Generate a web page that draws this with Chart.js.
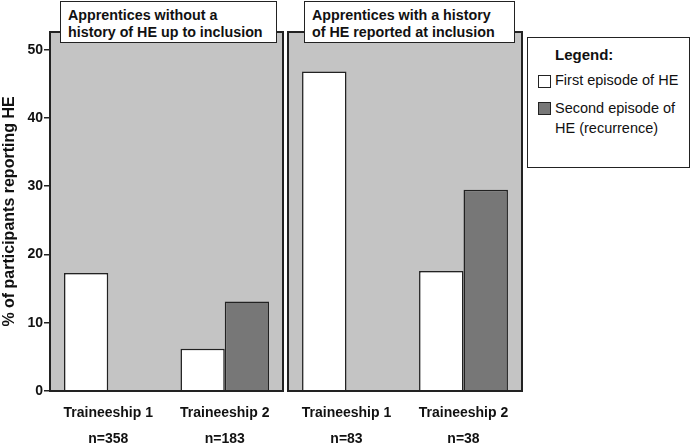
<!DOCTYPE html>
<html>
<head>
<meta charset="utf-8">
<script src="https://cdn.jsdelivr.net/npm/chart.js@4"></script>
<style>
  body { margin: 0; background: #fff; font-family: "Liberation Sans", Arial, sans-serif; }
  #wrap { position: relative; width: 692px; height: 444px; }
  canvas { position: absolute; top: 0; }
  #leftCanvas { left: 0; }
  #rightCanvas { left: 285px; }
  .title-box {
    position: absolute; top: 1px; height: 42px; background: #fff;
    border: 1.5px solid #222; font-weight: bold; font-size: 14.3px;
    line-height: 17px; padding: 5px 0 0 7px; box-sizing: border-box; color: #111;
  }
  #legendBox {
    position: absolute; left: 527px; top: 37px; width: 163px; height: 131px;
    border: 1.5px solid #222; box-sizing: border-box; color: #111; font-size: 14.5px;
  }
  #legendBox .head { position: absolute; left: 27px; top: 8px; font-weight: bold; font-size: 15px; }
  #legendBox .sw { position: absolute; left: 10px; width: 11px; height: 11px; border: 1px solid #222; }
  #legendBox .txt { position: absolute; left: 27px; line-height: 20px; }
</style>
</head>
<body>
<div id="wrap">
  <canvas id="leftCanvas" width="285" height="444"></canvas>
  <canvas id="rightCanvas" width="240" height="444"></canvas>
  <div class="title-box" style="left:60px; width:217px;">Apprentices without a<br>history of HE up to inclusion</div>
  <div class="title-box" style="left:304px; width:211px;">Apprentices with a history<br>of HE reported at inclusion</div>
  <div id="legendBox">
    <div class="head">Legend:</div>
    <div class="sw" style="top:37px; background:#fff;"></div>
    <div class="txt" style="top:32px;">First episode of HE</div>
    <div class="sw" style="top:64px; background:#777;"></div>
    <div class="txt" style="top:60px;">Second episode of<br>HE (recurrence)</div>
  </div>
</div>
<script>
const categoriesLeft = [["Traineeship 1", "n=358"], ["Traineeship 2", "n=183"]];
const categoriesRight = [["Traineeship 1", "n=83"], ["Traineeship 2", "n=38"]];
const firstEpisodeLeft = [17.3, 6.2];
const secondEpisodeLeft = [null, 13.1];
const firstEpisodeRight = [46.8, 17.6];
const secondEpisodeRight = [null, 29.5];
const yTicks = [0, 10, 20, 30, 40, 50];
const yMax = 52.6;

const panelBg = {
    id: "panelBg",
    beforeDatasetsDraw(chart) {
        const a = chart.chartArea;
        const c = chart.ctx;
        c.save();
        c.fillStyle = "#c4c4c4";
        c.fillRect(a.left, a.top, a.right - a.left, a.bottom - a.top);
        c.restore();
    },
    afterDatasetsDraw(chart) {
        const a = chart.chartArea;
        const c = chart.ctx;
        c.save();
        c.strokeStyle = "#222";
        c.lineWidth = 2;
        c.strokeRect(a.left, a.top, a.right - a.left, a.bottom - a.top);
        c.restore();
    }
};

function makeChart(id, labels, first, second, showY) {
    return new Chart(document.getElementById(id), {
        type: "bar",
        data: {
            labels: labels,
            datasets: [
                { label: "First episode of HE", data: first, backgroundColor: "#ffffff",
                  borderColor: "#222", borderWidth: 1.5 },
                { label: "Second episode of HE (recurrence)", data: second, backgroundColor: "#777777",
                  borderColor: "#222", borderWidth: 1.5 }
            ]
        },
        options: {
            responsive: false,
            animation: false,
            layout: { padding: { top: 32, left: showY ? 0 : 3, right: showY ? 2 : 3, bottom: 0 } },
            plugins: { legend: { display: false }, tooltip: { enabled: false } },
            datasets: { bar: { categoryPercentage: 0.76, barPercentage: 1 } },
            scales: {
                x: {
                    grid: { display: false },
                    border: { display: false },
                    ticks: {
                        color: "#111", padding: 2, maxRotation: 0, autoSkip: false,
                        font: { family: "Liberation Sans", size: 14, weight: "bold", lineHeight: 1.8 }
                    },
                    afterFit: (s) => { s.height = 53; }
                },
                y: {
                    display: showY,
                    min: 0,
                    max: yMax,
                    afterBuildTicks: (s) => { s.ticks = yTicks.map(v => ({ value: v })); },
                    grid: { drawOnChartArea: false, drawTicks: true, tickLength: 6, color: "#222", lineWidth: 1.5 },
                    border: { display: false },
                    ticks: {
                        color: "#111", padding: 1,
                        font: { family: "Liberation Sans", size: 14, weight: "bold" }
                    },
                    title: {
                        display: true, text: "% of participants reporting HE", color: "#111",
                        padding: 0,
                        font: { family: "Liberation Sans", size: 16, weight: "bold" }
                    },
                    afterFit: (s) => { s.width = showY ? 50 : 0; }
                }
            }
        },
        plugins: [panelBg]
    });
}

makeChart("leftCanvas", categoriesLeft, firstEpisodeLeft, secondEpisodeLeft, true);
makeChart("rightCanvas", categoriesRight, firstEpisodeRight, secondEpisodeRight, false);
</script>
</body>
</html>
